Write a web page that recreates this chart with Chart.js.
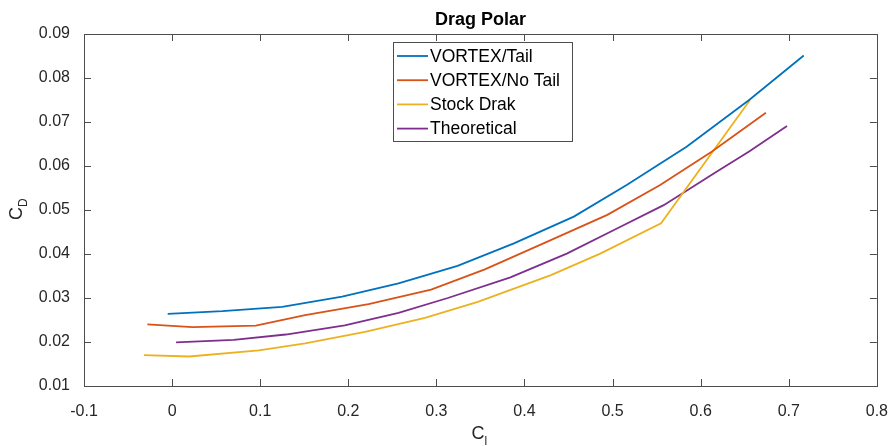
<html>
  <head>
    <title>Drag Polar</title>
    <script src="https://cdn.jsdelivr.net/npm/chart.js@4.4.1/dist/chart.umd.min.js"></script>
    <style>
      body{
        margin:0;
        background:#fff;
      }
    </style>
  </head>
  <body>
    <canvas id="polar" width="896" height="446"></canvas>
  </body>

  <script>
    // values (CL, CD)
    var clTail   = [-0.005, 0.057, 0.125, 0.193, 0.257, 0.324, 0.388, 0.456, 0.516, 0.584, 0.655, 0.717];
    var cdTail   = [0.0264, 0.0270, 0.0280, 0.0303, 0.0333, 0.0373, 0.0424, 0.0485, 0.0557, 0.0644, 0.0750, 0.0851];

    var clNoTail = [-0.028, 0.023, 0.095, 0.151, 0.223, 0.294, 0.355, 0.426, 0.494, 0.554, 0.612, 0.674];
    var cdNoTail = [0.0240, 0.0234, 0.0237, 0.0261, 0.0286, 0.0319, 0.0365, 0.0428, 0.0489, 0.0557, 0.0632, 0.0721];

    var clStock  = [-0.032, 0.0195, 0.0985, 0.151, 0.219, 0.287, 0.347, 0.430, 0.486, 0.555, 0.656];
    var cdStock  = [0.0170, 0.0167, 0.0181, 0.0197, 0.0223, 0.0255, 0.0291, 0.0352, 0.0401, 0.0470, 0.0750];

    var clTheo   = [0.0045, 0.070, 0.129, 0.196, 0.257, 0.313, 0.384, 0.448, 0.505, 0.558, 0.618, 0.655, 0.698];
    var cdTheo   = [0.0199, 0.0205, 0.0217, 0.0238, 0.0266, 0.0300, 0.0347, 0.0401, 0.0458, 0.0511, 0.0587, 0.0633, 0.0691];

    var seriesNames = ["VORTEX/Tail", "VORTEX/No Tail", "Stock Drak", "Theoretical"];
    var seriesColors = ["#0072BD", "#D95319", "#EDB120", "#7E2F8E"];
    var xTicks = [-0.1, 0, 0.1, 0.2, 0.3, 0.4, 0.5, 0.6, 0.7, 0.8];
    var yTicks = [0.01, 0.02, 0.03, 0.04, 0.05, 0.06, 0.07, 0.08, 0.09];

    var FONT = "'Liberation Sans', Arial, Helvetica, sans-serif";

    function pts(xs, ys){
      var out = [];
      for (var i=0;i<xs.length;i++){
        out.push({x: xs[i], y: ys[i]});
      }
      return out;
    }

    var allData = [pts(clTail, cdTail), pts(clNoTail, cdNoTail), pts(clStock, cdStock), pts(clTheo, cdTheo)];
    var datasets = [];
    for (var i=0;i<4;i++){
      datasets.push({
        label: seriesNames[i],
        data: allData[i],
        showLine: true,
        borderColor: seriesColors[i],
        backgroundColor: seriesColors[i],
        borderWidth: 1.8,
        pointRadius: 0,
        tension: 0
      });
    }

    // box, inward ticks, title, axis labels and legend in MATLAB style
    var matlabLook = {
      id: 'matlabLook',
      afterDraw: function(chart){
        var ctx = chart.ctx;
        var a = chart.chartArea;
        var xs = chart.scales.x, ys = chart.scales.y;
        ctx.save();
        ctx.strokeStyle = '#4d4d4d';
        ctx.lineWidth = 1;
        ctx.strokeRect(Math.round(a.left)+0.5, Math.round(a.top)+0.5, Math.round(a.right-a.left), Math.round(a.bottom-a.top));
        ctx.beginPath();
        xTicks.forEach(function(v){
          var px = Math.round(xs.getPixelForValue(v))+0.5;
          ctx.moveTo(px, a.bottom); ctx.lineTo(px, a.bottom-7);
          ctx.moveTo(px, a.top); ctx.lineTo(px, a.top+7);
        });
        yTicks.forEach(function(v){
          var py = Math.round(ys.getPixelForValue(v))+0.5;
          ctx.moveTo(a.left, py); ctx.lineTo(a.left+7, py);
          ctx.moveTo(a.right, py); ctx.lineTo(a.right-7, py);
        });
        ctx.stroke();

        // title
        ctx.fillStyle = '#000';
        ctx.font = 'bold 18px ' + FONT;
        ctx.textAlign = 'center';
        ctx.textBaseline = 'alphabetic';
        ctx.fillText('Drag Polar', (a.left+a.right)/2, 25);

        // x label C_l
        ctx.fillStyle = '#262626';
        ctx.font = '18px ' + FONT;
        ctx.textAlign = 'left';
        var cx = (a.left+a.right)/2 - 9;
        ctx.fillText('C', cx, 439);
        var cw = ctx.measureText('C').width;
        ctx.font = '12px ' + FONT;
        ctx.fillText('l', cx+cw, 445);

        // y label C_D
        ctx.save();
        ctx.translate(22, (a.top+a.bottom)/2 + 10);
        ctx.rotate(-Math.PI/2);
        ctx.font = '18px ' + FONT;
        ctx.fillText('C', 0, 0);
        cw = ctx.measureText('C').width;
        ctx.font = '12px ' + FONT;
        ctx.fillText('D', cw, 5);
        ctx.restore();

        // legend
        var lx = 393.5, ly = 42.5, lw = 179, lh = 99;
        ctx.fillStyle = '#fff';
        ctx.fillRect(lx, ly, lw, lh);
        ctx.strokeStyle = '#4d4d4d';
        ctx.lineWidth = 1;
        ctx.strokeRect(lx, ly, lw, lh);
        ctx.font = '17.5px ' + FONT;
        ctx.textBaseline = 'middle';
        for (var k=0;k<seriesNames.length;k++){
          var yy = 56 + k*24.2;
          ctx.strokeStyle = seriesColors[k];
          ctx.lineWidth = 1.8;
          ctx.beginPath();
          ctx.moveTo(397, yy); ctx.lineTo(428, yy);
          ctx.stroke();
          ctx.fillStyle = '#000';
          ctx.fillText(seriesNames[k], 430, yy+1);
        }
        ctx.restore();
      }
    };

    function fmt(v){
      return Number(Number(v).toFixed(2)).toString();
    }

    new Chart(document.getElementById('polar'), {
      type: 'scatter',
      data: { datasets: datasets },
      options: {
        responsive: false,
        animation: false,
        layout: { padding: { top: 34, right: 14, left: 0, bottom: 0 } },
        plugins: {
          legend: { display: false },
          title: { display: false },
          tooltip: { enabled: false }
        },
        scales: {
          x: {
            type: 'linear',
            min: -0.1,
            max: 0.8,
            afterFit: function(s){ s.height = 60; },
            afterBuildTicks: function(s){ s.ticks = xTicks.map(function(v){ return {value: v}; }); },
            grid: { display: false },
            border: { display: false },
            ticks: {
              color: '#262626',
              font: { family: FONT, size: 16 },
              padding: 8,
              maxRotation: 0,
              callback: fmt
            }
          },
          y: {
            type: 'linear',
            min: 0.01,
            max: 0.09,
            afterFit: function(s){ s.width = 84; },
            afterBuildTicks: function(s){ s.ticks = yTicks.map(function(v){ return {value: v}; }); },
            grid: { display: false },
            border: { display: false },
            ticks: {
              color: '#262626',
              font: { family: FONT, size: 16 },
              padding: 6,
              callback: fmt
            }
          }
        }
      },
      plugins: [matlabLook]
    });
  </script>
</html>
